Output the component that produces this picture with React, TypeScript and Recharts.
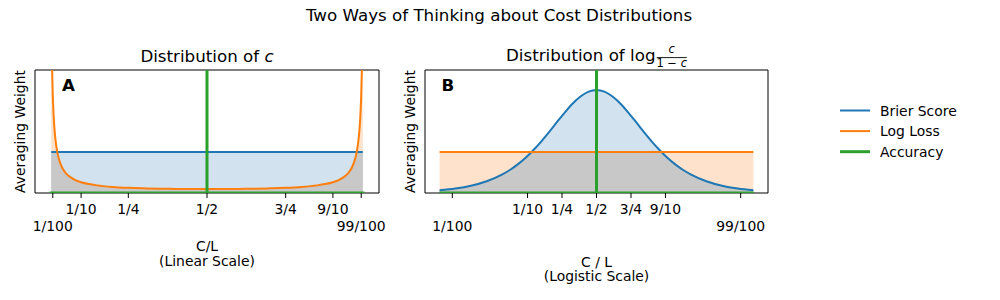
import React from 'react';
import { ComposedChart, Line, Area, XAxis, YAxis, ReferenceArea } from 'recharts';

const FONT = '"DejaVu Sans", "Liberation Sans", sans-serif';
const BLUE = '#1f77b4';
const ORANGE = '#ff7f0e';
const GREEN = '#2ca02c';
const BLUE_FILL = '#d2e3ef';
const ORANGE_FILL = '#ffe2cb';
const GRAY_FILL = '#c8c8c8';

// ---------- Panel A: cost c on a linear scale ----------
const costLinear = [
  0.005, 0.0065, 0.008, 0.01, 0.0125, 0.015, 0.02, 0.025, 0.03, 0.04, 0.05, 0.06, 0.08, 0.1,
  0.125, 0.15, 0.2, 0.25, 0.3, 0.35, 0.4, 0.45, 0.5, 0.55, 0.6, 0.65, 0.7, 0.75, 0.8, 0.85,
  0.875, 0.9, 0.92, 0.94, 0.95, 0.96, 0.97, 0.975, 0.98, 0.985, 0.9875, 0.99, 0.992, 0.9935, 0.995,
];
const brierLinear = [
  1, 1, 1, 1, 1, 1, 1, 1, 1, 1, 1, 1, 1, 1, 1, 1, 1, 1, 1, 1, 1, 1, 1,
  1, 1, 1, 1, 1, 1, 1, 1, 1, 1, 1, 1, 1, 1, 1, 1, 1, 1, 1, 1, 1, 1,
];
const logLossLinear = [
  4.76, 3.67, 2.99, 2.39, 1.92, 1.6, 1.21, 0.972, 0.814, 0.617, 0.499, 0.42, 0.322, 0.263,
  0.217, 0.186, 0.148, 0.126, 0.113, 0.104, 0.099, 0.096, 0.095, 0.096, 0.099, 0.104, 0.113,
  0.126, 0.148, 0.186, 0.217, 0.263, 0.322, 0.42, 0.499, 0.617, 0.814, 0.972, 1.21, 1.6, 1.92,
  2.39, 2.99, 3.67, 4.76,
];
const accuracyLinearX = [0, 0.5, 0.5, 0.5, 1];
const accuracyLinearY = [0, 0, 3.2, 0, 0];

// ---------- Panel B: log(c / (1 - c)) ----------
const costLogit = [
  -5, -4.5, -4, -3.5, -3, -2.75, -2.5, -2.25, -2, -1.75, -1.5, -1.25, -1, -0.75, -0.5, -0.25, 0,
  0.25, 0.5, 0.75, 1, 1.25, 1.5, 1.75, 2, 2.25, 2.5, 2.75, 3, 3.5, 4, 4.5, 5,
];
const brierLogit = [
  0.067, 0.109, 0.177, 0.286, 0.454, 0.567, 0.704, 0.866, 1.054, 1.266, 1.497, 1.738, 1.974,
  2.188, 2.359, 2.471, 2.51, 2.471, 2.359, 2.188, 1.974, 1.738, 1.497, 1.266, 1.054, 0.866,
  0.704, 0.567, 0.454, 0.286, 0.177, 0.109, 0.067,
];
const logLossLogit = [
  1, 1, 1, 1, 1, 1, 1, 1, 1, 1, 1, 1, 1, 1, 1, 1, 1,
  1, 1, 1, 1, 1, 1, 1, 1, 1, 1, 1, 1, 1, 1, 1, 1,
];
const accuracyLogitX = [-5, 0, 0, 0, 5];
const accuracyLogitY = [0, 0, 3.2, 0, 0];

// ---------- ticks ----------
const tickLabels = ['1/100', '1/10', '1/4', '1/2', '3/4', '9/10', '99/100'];
const tickLower = [true, false, false, false, false, false, true];
const tickValuesLinear = [0.01, 0.1, 0.25, 0.5, 0.75, 0.9, 0.99];
const tickValuesLogit = [-4.595, -2.197, -1.099, 0, 1.099, 2.197, 4.595];

const legendItems = [
  { label: 'Brier Score', color: BLUE, width: 2 },
  { label: 'Log Loss', color: ORANGE, width: 2 },
  { label: 'Accuracy', color: GREEN, width: 3 },
];

// tables built from the arrays above
const tableA = costLinear.map((c, i) => ({
  c,
  brier: brierLinear[i],
  logLoss: logLossLinear[i],
  overlap: Math.min(brierLinear[i], logLossLinear[i]),
}));
const accA = accuracyLinearX.map((c, i) => ({ c, acc: accuracyLinearY[i] }));
const tableB = costLogit.map((c, i) => ({
  c,
  brier: brierLogit[i],
  logLoss: logLossLogit[i],
  overlap: Math.min(brierLogit[i], logLossLogit[i]),
}));
const accB = accuracyLogitX.map((c, i) => ({ c, acc: accuracyLogitY[i] }));

const makeTick = (values: number[]) => (props: any) => {
  const { x, y, payload } = props;
  const i = values.findIndex((v) => Math.abs(v - payload.value) < 1e-6);
  if (i < 0) return <g />;
  return (
    <text
      x={x}
      y={y + (tickLower[i] ? 30.7 : 14)}
      textAnchor="middle"
      fontFamily={FONT}
      fontSize={13.9}
      fill="#000"
    >
      {tickLabels[i]}
    </text>
  );
};

type PanelProps = {
  data: any[];
  acc: any[];
  domain: [number, number];
  ticks: number[];
  margin: { top: number; right: number; bottom: number; left: number };
  curveA: 'linear' | 'monotone';
  curveB: 'linear' | 'monotone';
};

const Panel = ({ data, acc, domain, ticks, margin, curveA, curveB }: PanelProps) => (
  <ComposedChart width={400} height={300} data={data} margin={margin}>
    <XAxis
      dataKey="c"
      type="number"
      domain={domain}
      allowDataOverflow
      ticks={ticks}
      interval={0}
      tick={makeTick(ticks)}
      tickSize={5}
      tickMargin={2}
      axisLine={false}
      tickLine={{ stroke: '#000', strokeWidth: 1 }}
      height={30}
    />
    <YAxis type="number" domain={[0, 3]} allowDataOverflow hide />
    <Area
      dataKey="logLoss"
      type={curveB}
      stroke="none"
      fill={ORANGE_FILL}
      fillOpacity={1}
      isAnimationActive={false}
    />
    <Area
      dataKey="brier"
      type={curveA}
      stroke="none"
      fill={BLUE_FILL}
      fillOpacity={1}
      isAnimationActive={false}
    />
    <Area
      dataKey="overlap"
      type="monotone"
      stroke="none"
      fill={GRAY_FILL}
      fillOpacity={1}
      isAnimationActive={false}
    />
    <Line dataKey="brier" type={curveA} stroke={BLUE} strokeWidth={2} dot={false} isAnimationActive={false} />
    <Line dataKey="logLoss" type={curveB} stroke={ORANGE} strokeWidth={2} dot={false} isAnimationActive={false} />
    <Line
      data={acc}
      dataKey="acc"
      type="linear"
      stroke={GREEN}
      strokeWidth={3}
      dot={false}
      isAnimationActive={false}
    />
    <ReferenceArea
      x1={domain[0]}
      x2={domain[1]}
      y1={0}
      y2={3}
      fill="none"
      fillOpacity={0}
      stroke="#000"
      strokeWidth={1}
      strokeOpacity={1}
      ifOverflow="visible"
    />
  </ComposedChart>
);

export default function App() {
  return (
    <div
      style={{
        position: 'absolute',
        left: 0,
        top: 0,
        width: 1000,
        height: 300,
        background: '#fff',
        fontFamily: FONT,
      }}
    >
      <div style={{ position: 'absolute', left: 0, top: 0 }}>
        <Panel
          data={tableA}
          acc={accA}
          domain={[-0.0465, 1.0465]}
          ticks={tickValuesLinear}
          margin={{ top: 70, right: 21, bottom: 77, left: 35 }}
          curveA="linear"
          curveB="monotone"
        />
      </div>
      <div style={{ position: 'absolute', left: 400, top: 0 }}>
        <Panel
          data={tableB}
          acc={accB}
          domain={[-5.465, 5.465]}
          ticks={tickValuesLogit}
          margin={{ top: 70, right: 32, bottom: 77, left: 25 }}
          curveA="monotone"
          curveB="linear"
        />
      </div>
      <svg
        width={1000}
        height={300}
        style={{ position: 'absolute', left: 0, top: 0, pointerEvents: 'none' }}
        fontFamily={FONT}
      >
        <text x={499} y={20.7} textAnchor="middle" fontSize={16.7} fill="#000">
          Two Ways of Thinking about Cost Distributions
        </text>
        {/* Panel A texts */}
        <text x={207} y={62} textAnchor="middle" fontSize={16.7} fill="#000">
          Distribution of <tspan fontStyle="italic">c</tspan>
        </text>
        <text x={62} y={90.5} fontSize={16.7} fontWeight="bold" fill="#000">A</text>
        <text transform="translate(25,131.5) rotate(-90)" textAnchor="middle" fontSize={13.9} fill="#000">
          Averaging Weight
        </text>
        <text x={207} y={250.5} textAnchor="middle" fontSize={13.9} fill="#000">C/L</text>
        <text x={207} y={265.5} textAnchor="middle" fontSize={13.9} fill="#000">(Linear Scale)</text>
        {/* Panel B texts */}
        <text x={506} y={60.5} fontSize={16.7} fill="#000">Distribution of log</text>
        <text x={671.7} y={53.3} textAnchor="middle" fontSize={11.5} fontStyle="italic" fill="#000">c</text>
        <line x1={656.7} x2={686.7} y1={57.6} y2={57.6} stroke="#000" strokeWidth={0.9} />
        <text x={671.7} y={66.7} textAnchor="middle" fontSize={11.5} fill="#000">
          1 − <tspan fontStyle="italic">c</tspan>
        </text>
        <text x={441.5} y={90.5} fontSize={16.7} fontWeight="bold" fill="#000">B</text>
        <text transform="translate(415,131.5) rotate(-90)" textAnchor="middle" fontSize={13.9} fill="#000">
          Averaging Weight
        </text>
        <text x={596.5} y={266.5} textAnchor="middle" fontSize={13.9} fill="#000">C / L</text>
        <text x={596.5} y={281} textAnchor="middle" fontSize={13.9} fill="#000">(Logistic Scale)</text>
        {/* Legend */}
        {legendItems.map((item, i) => {
          const ly = 110.5 + i * 20.6;
          return (
            <g key={item.label}>
              <line x1={840} x2={870} y1={ly} y2={ly} stroke={item.color} strokeWidth={item.width} />
              <text x={880} y={ly + 5} fontSize={13.9} fill="#000">{item.label}</text>
            </g>
          );
        })}
      </svg>
    </div>
  );
}
